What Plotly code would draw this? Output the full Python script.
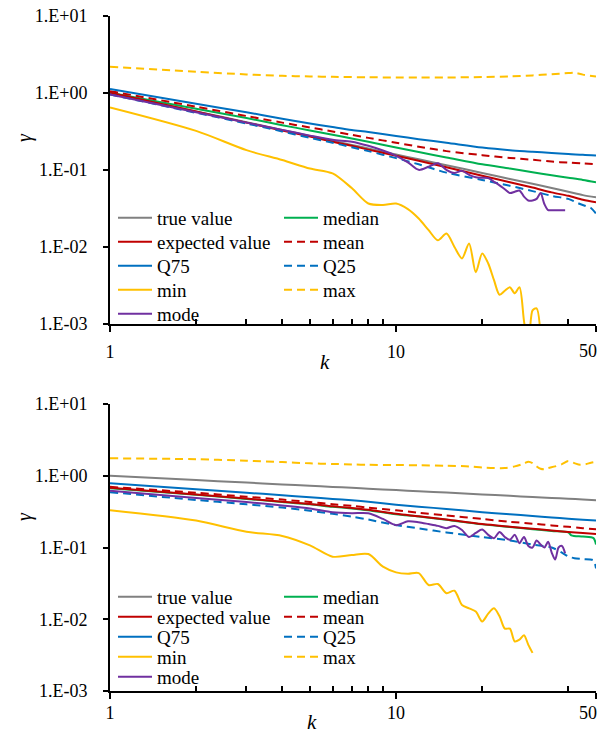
import plotly.graph_objects as go

# ---------------- data ----------------
k_s = [1, 2, 3, 4, 5, 6, 7, 8, 10, 12, 15, 20, 25, 30, 35, 40, 45, 50]

# top panel
true_top = [1.0, 0.574, 0.415, 0.33, 0.276, 0.238, 0.211, 0.189, 0.158, 0.137, 0.115, 0.091, 0.076, 0.066, 0.058, 0.052, 0.047, 0.044]
expected_top = [1.0, 0.57, 0.41, 0.325, 0.27, 0.232, 0.205, 0.183, 0.152, 0.131, 0.108, 0.084, 0.069, 0.059, 0.051, 0.046, 0.041, 0.038]
median_top = [1.0, 0.62, 0.47, 0.38, 0.325, 0.285, 0.255, 0.232, 0.195, 0.17, 0.145, 0.118, 0.104, 0.093, 0.085, 0.079, 0.074, 0.069]
mean_top = [1.05, 0.66, 0.50, 0.41, 0.355, 0.315, 0.285, 0.26, 0.225, 0.2, 0.175, 0.155, 0.143, 0.135, 0.128, 0.124, 0.121, 0.118]
q75_top = [1.12, 0.72, 0.56, 0.46, 0.40, 0.36, 0.33, 0.31, 0.275, 0.25, 0.225, 0.195, 0.18, 0.172, 0.165, 0.16, 0.157, 0.153]
k_q25_top = [1, 2, 3, 4, 5, 6, 7, 8, 10, 12, 15, 20, 25, 30, 35, 40, 42, 44, 46, 48, 50]
q25_top = [0.95, 0.55, 0.40, 0.315, 0.26, 0.225, 0.196, 0.175, 0.142, 0.118, 0.092, 0.074, 0.062, 0.053, 0.046, 0.042, 0.039, 0.036, 0.034, 0.032, 0.027]
k_max_top = [1, 2, 3, 4, 5, 6, 8, 10, 12, 15, 20, 25, 30, 35, 40, 42, 45, 50]
max_top = [2.18, 1.87, 1.73, 1.66, 1.63, 1.61, 1.59, 1.58, 1.58, 1.58, 1.6, 1.63, 1.68, 1.74, 1.8, 1.82, 1.72, 1.62]
k_min_top = list(range(1, 33))
min_top = [0.645, 0.32, 0.18, 0.134, 0.104, 0.09, 0.058, 0.0366, 0.035, 0.0366, 0.031, 0.0234, 0.0165, 0.0122,
           0.0149, 0.01, 0.0071, 0.0111, 0.0047, 0.0082, 0.0061, 0.0037, 0.0024, 0.0027, 0.003, 0.0025, 0.003,
           0.0011, 0.0005, 0.0015, 0.0016, 0.0007]
k_mode_top = list(range(1, 40))
mode_top = [0.95, 0.56, 0.41, 0.33, 0.278, 0.245, 0.232, 0.205, 0.178, 0.152, 0.125, 0.1, 0.11, 0.122, 0.1, 0.091,
            0.097, 0.086, 0.08, 0.079, 0.078, 0.07, 0.063, 0.056, 0.05, 0.052, 0.054, 0.045, 0.04, 0.04, 0.042,
            0.05, 0.036, 0.03, 0.03, 0.03, 0.03, 0.03, 0.03]

# bottom panel
true_bot = [1.0, 0.871, 0.803, 0.758, 0.725, 0.699, 0.678, 0.66, 0.631, 0.609, 0.582, 0.549, 0.525, 0.506, 0.491, 0.478, 0.467, 0.457]
expected_bot = [0.68, 0.55, 0.48, 0.435, 0.405, 0.375, 0.355, 0.335, 0.295, 0.272, 0.245, 0.212, 0.195, 0.183, 0.173, 0.165, 0.159, 0.154]
k_med_bot = [1, 2, 3, 4, 5, 6, 7, 8, 10, 12, 15, 20, 25, 30, 35, 40, 41, 45, 49, 50]
median_bot = [0.67, 0.545, 0.475, 0.43, 0.40, 0.37, 0.35, 0.33, 0.29, 0.27, 0.243, 0.21, 0.193, 0.18, 0.17, 0.163, 0.148, 0.142, 0.135, 0.11]
mean_bot = [0.70, 0.58, 0.51, 0.465, 0.43, 0.40, 0.38, 0.36, 0.33, 0.305, 0.28, 0.25, 0.228, 0.215, 0.203, 0.194, 0.186, 0.179]
q75_bot = [0.785, 0.65, 0.58, 0.535, 0.50, 0.475, 0.455, 0.435, 0.395, 0.37, 0.345, 0.31, 0.29, 0.275, 0.262, 0.252, 0.244, 0.237]
k_q25_bot = [1, 2, 3, 4, 5, 6, 7, 8, 10, 12, 15, 20, 25, 30, 35, 38, 40, 42, 45, 49, 50]
q25_bot = [0.59, 0.46, 0.40, 0.36, 0.325, 0.295, 0.27, 0.245, 0.205, 0.185, 0.162, 0.14, 0.125, 0.11, 0.1, 0.085, 0.075, 0.071, 0.069, 0.066, 0.051]
k_max_bot = [1, 2, 3, 4, 5, 6, 7, 8, 10, 12, 15, 18, 20, 22, 24, 26, 28, 29, 30, 31, 32, 33, 34, 36, 38, 40, 42, 44, 46, 48, 50]
max_bot = [1.75, 1.7, 1.62, 1.55, 1.49, 1.46, 1.44, 1.42, 1.41, 1.4, 1.38, 1.35, 1.3, 1.28, 1.28, 1.35, 1.48, 1.57, 1.5,
           1.35, 1.25, 1.23, 1.28, 1.35, 1.45, 1.6, 1.5, 1.42, 1.45, 1.52, 1.57]
k_min_bot = list(range(1, 31))
min_bot = [0.33, 0.237, 0.166, 0.145, 0.107, 0.0745, 0.0785, 0.081, 0.054, 0.045, 0.043, 0.044, 0.03, 0.031, 0.023,
           0.025, 0.0158, 0.0142, 0.0128, 0.0093, 0.012, 0.0142, 0.011, 0.0074, 0.0074, 0.0049, 0.0052, 0.006,
           0.0044, 0.0034]
k_mode_bot = list(range(1, 40))
mode_bot = [0.62, 0.49, 0.43, 0.385, 0.35, 0.31, 0.30, 0.30, 0.25, 0.205, 0.232, 0.225, 0.212, 0.20, 0.186, 0.2,
            0.175, 0.14, 0.16, 0.178, 0.15, 0.135, 0.165, 0.14, 0.128, 0.15, 0.115, 0.14, 0.105, 0.1, 0.125,
            0.11, 0.1, 0.12, 0.085, 0.068, 0.1, 0.105, 0.083]

series_names = ["true value", "median", "expected value", "mean", "Q75", "Q25", "min", "max", "mode"]
y_tickvals = [1e-3, 1e-2, 1e-1, 1, 10]
y_ticktext = ["1.E-03", "1.E-02", "1.E-01", "1.E+00", "1.E+01"]
x_tickvals = [1, 10, 50]
x_ticktext = ["1", "10", ""]   # the last label ("50") sits flush with the right edge, drawn below
x_last_label = "50"
x_minor = [2, 3, 4, 5, 6, 7, 8, 9, 20, 40]

# ---------------- style ----------------
W, H = 600, 734
FONT = "Liberation Serif"
GRAY, RED, GREEN, BLUE, YELLOW, PURPLE = "#808080", "#C00000", "#00B050", "#0070C0", "#FFC000", "#7030A0"
DASH = "8px,5px"
colors = [GRAY, GREEN, RED, RED, BLUE, BLUE, YELLOW, YELLOW, PURPLE]
dashes = ["solid", "solid", "solid", DASH, "solid", DASH, "solid", DASH, "solid"]

# legend grid (pixel positions of each entry: column x, row centre y)
col_x = [113, 279]
row_y_top = [218, 242, 266, 290, 314]
row_y_bot = [597, 617, 637, 657, 677]

fig = go.Figure()


def py(p):
    return 1 - p / H


panels = [
    ("x", "y", row_y_top,
     [(k_s, true_top), (k_s, median_top), (k_s, expected_top), (k_s, mean_top), (k_s, q75_top),
      (k_q25_top, q25_top), (k_min_top, min_top), (k_max_top, max_top), (k_mode_top, mode_top)]),
    ("x2", "y2", row_y_bot,
     [(k_s, true_bot), (k_med_bot, median_bot), (k_s, expected_bot), (k_s, mean_bot), (k_s, q75_bot),
      (k_q25_bot, q25_bot), (k_min_bot, min_bot), (k_max_bot, max_bot), (k_mode_bot, mode_bot)]),
]

legends = {}
n = 0
for xa, ya, rows, data in panels:
    for i, (xs, ys) in enumerate(data):
        n += 1
        lid = "legend" if n == 1 else f"legend{n}"
        fig.add_trace(go.Scatter(
            x=xs, y=ys, mode="lines", name=series_names[i], showlegend=True,
            line=dict(color=colors[i], width=2, dash=dashes[i], shape="spline", smoothing=0.8),
            xaxis=xa, yaxis=ya, legend=lid, hoverinfo="skip"))
        legends[lid] = dict(x=col_x[i % 2] / W, y=py(rows[i // 2]), xanchor="left", yanchor="middle",
                            orientation="v", bgcolor="rgba(0,0,0,0)",
                            font=dict(family=FONT, size=19, color="black"), itemwidth=34)

x_dom = [110 / W, 596 / W]
axis_font = dict(family=FONT, size=18, color="black")
X_RANGE = [0, 1.69897]


def xaxis(anchor, standoff):
    return dict(type="log", range=X_RANGE, domain=x_dom, anchor=anchor, automargin=False,
                showline=True, linecolor="black", linewidth=2, showgrid=False, zeroline=False,
                tickmode="array", tickvals=x_tickvals, ticktext=x_ticktext,
                ticks="outside", ticklen=6, tickwidth=2, tickcolor="black",
                ticklabelstandoff=standoff, tickfont=axis_font,
                minor=dict(tickmode="array", tickvals=x_minor, ticks="inside", ticklen=5,
                           tickwidth=1.5, tickcolor="black", showgrid=False))


def yaxis(anchor, dom):
    return dict(type="log", range=[-3, 1], domain=dom, anchor=anchor, automargin=False,
                showline=True, linecolor="black", linewidth=2, showgrid=False, zeroline=False,
                tickmode="array", tickvals=y_tickvals, ticktext=y_ticktext,
                ticks="outside", ticklen=5, tickwidth=2, tickcolor="black",
                ticklabelstandoff=12, tickfont=axis_font)


def label(text, x, y, size, xref="paper", xanchor="center", xshift=0, angle=0):
    return dict(text=text, x=x, y=py(y), xref=xref, yref="paper", showarrow=False,
                xanchor=xanchor, yanchor="middle", xshift=xshift, textangle=angle,
                font=dict(family=FONT, size=size, color="black"))


annotations = [
    label("<i>γ</i>", 24 / W, 138, 20, angle=-90),
    label("<i>γ</i>", 24 / W, 517, 20, angle=-90),
    label("<i>k</i>", 325 / W, 362, 21),
    label("<i>k</i>", 312 / W, 722, 21),
    # last x tick label, right-aligned at the end of each x axis
    label(x_last_label, X_RANGE[1], 351, 18, xref="x", xanchor="right", xshift=3),
    label(x_last_label, X_RANGE[1], 713, 18, xref="x2", xanchor="right", xshift=3),
]

fig.update_layout(
    width=W, height=H, margin=dict(l=0, r=0, t=0, b=0, autoexpand=False),
    paper_bgcolor="white", plot_bgcolor="white", showlegend=True,
    font=dict(family=FONT, size=18, color="black"),
    xaxis=xaxis("y", 4), yaxis=yaxis("x", [py(324), py(15.7)]),
    xaxis2=xaxis("y2", -2), yaxis2=yaxis("x2", [py(691), py(404)]),
    annotations=annotations,
    **legends,
)

fig.write_html("out.html")
